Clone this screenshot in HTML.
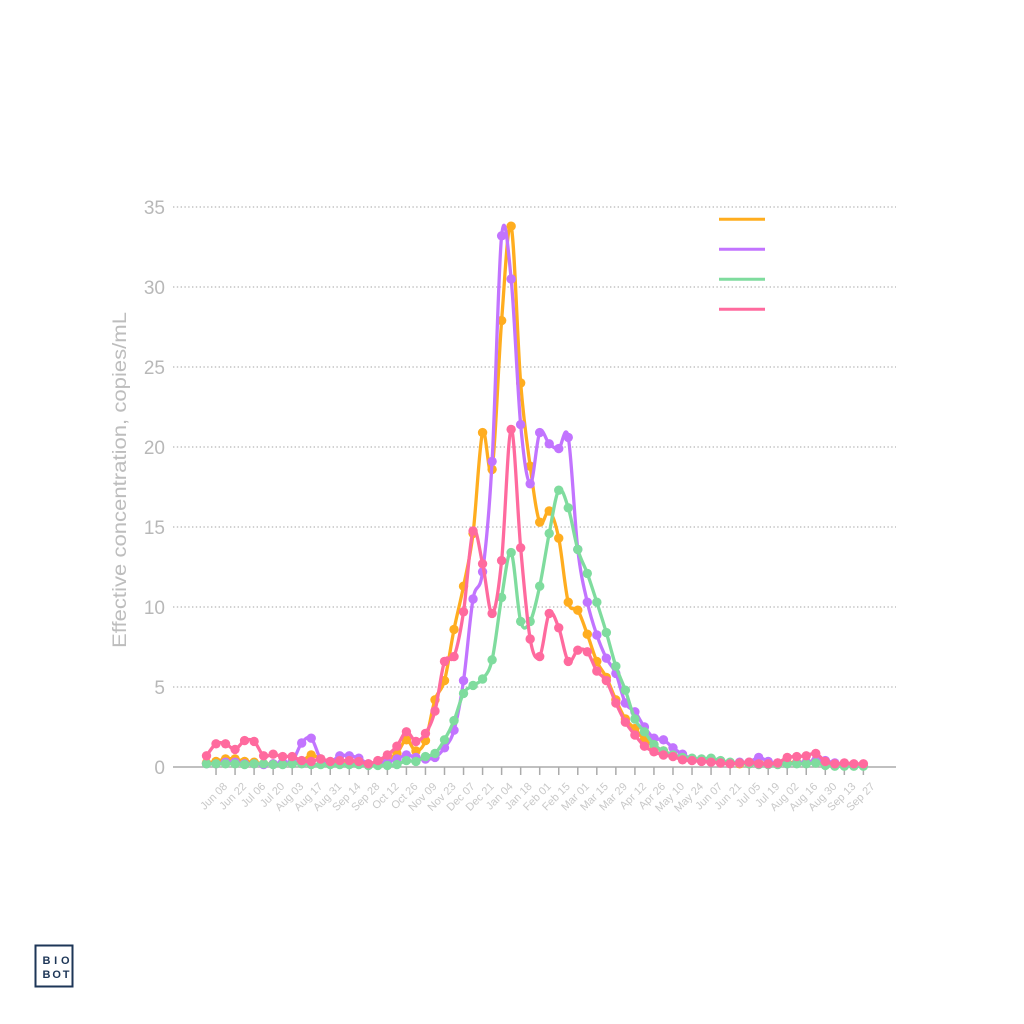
<!DOCTYPE html>
<html>
<head>
<meta charset="utf-8">
<style>
  html,body{margin:0;padding:0;background:#fff;}
  svg{display:block;}
  text{font-family:"Liberation Sans",Arial,sans-serif;}
</style>
</head>
<body>
<svg id="chart" xmlns="http://www.w3.org/2000/svg" width="1024" height="1024" viewBox="0 0 1024 1024">
  <rect width="1024" height="1024" fill="#fff"/>
  <!-- gridlines -->
  <g stroke="#c2c2c2" stroke-width="1.4" stroke-dasharray="1.4 2.4">
    <line x1="173" y1="207" x2="896" y2="207"/>
    <line x1="173" y1="287" x2="896" y2="287"/>
    <line x1="173" y1="367" x2="896" y2="367"/>
    <line x1="173" y1="447" x2="896" y2="447"/>
    <line x1="173" y1="527" x2="896" y2="527"/>
    <line x1="173" y1="607" x2="896" y2="607"/>
    <line x1="173" y1="687" x2="896" y2="687"/>
  </g>
  <!-- y labels -->
  <g font-size="19" fill="#b8b8b8" text-anchor="end">
    <text x="165" y="214">35</text>
    <text x="165" y="294">30</text>
    <text x="165" y="374">25</text>
    <text x="165" y="454">20</text>
    <text x="165" y="534">15</text>
    <text x="165" y="614">10</text>
    <text x="165" y="694">5</text>
    <text x="165" y="774">0</text>
  </g>
  <text transform="translate(126,480) rotate(-90)" text-anchor="middle" font-size="19" fill="#bdbdbd" textLength="336" lengthAdjust="spacingAndGlyphs">Effective concentration, copies/mL</text>

  <!-- x axis -->
  <line x1="173" y1="767" x2="896" y2="767" stroke="#ababab" stroke-width="1.5"/>
  <g id="ticks" stroke="#ababab" stroke-width="1.5"></g>
  <g font-size="11" fill="#c8c8c8" text-anchor="end">
    <text transform="translate(228.0,787) rotate(-45)">Jun 08</text>
    <text transform="translate(247.0,787) rotate(-45)">Jun 22</text>
    <text transform="translate(266.1,787) rotate(-45)">Jul 06</text>
    <text transform="translate(285.1,787) rotate(-45)">Jul 20</text>
    <text transform="translate(304.2,787) rotate(-45)">Aug 03</text>
    <text transform="translate(323.2,787) rotate(-45)">Aug 17</text>
    <text transform="translate(342.2,787) rotate(-45)">Aug 31</text>
    <text transform="translate(361.3,787) rotate(-45)">Sep 14</text>
    <text transform="translate(380.3,787) rotate(-45)">Sep 28</text>
    <text transform="translate(399.4,787) rotate(-45)">Oct 12</text>
    <text transform="translate(418.4,787) rotate(-45)">Oct 26</text>
    <text transform="translate(437.4,787) rotate(-45)">Nov 09</text>
    <text transform="translate(456.5,787) rotate(-45)">Nov 23</text>
    <text transform="translate(475.5,787) rotate(-45)">Dec 07</text>
    <text transform="translate(494.6,787) rotate(-45)">Dec 21</text>
    <text transform="translate(513.6,787) rotate(-45)">Jan 04</text>
    <text transform="translate(532.6,787) rotate(-45)">Jan 18</text>
    <text transform="translate(551.7,787) rotate(-45)">Feb 01</text>
    <text transform="translate(570.7,787) rotate(-45)">Feb 15</text>
    <text transform="translate(589.8,787) rotate(-45)">Mar 01</text>
    <text transform="translate(608.8,787) rotate(-45)">Mar 15</text>
    <text transform="translate(627.8,787) rotate(-45)">Mar 29</text>
    <text transform="translate(646.9,787) rotate(-45)">Apr 12</text>
    <text transform="translate(665.9,787) rotate(-45)">Apr 26</text>
    <text transform="translate(685.0,787) rotate(-45)">May 10</text>
    <text transform="translate(704.0,787) rotate(-45)">May 24</text>
    <text transform="translate(723.0,787) rotate(-45)">Jun 07</text>
    <text transform="translate(742.1,787) rotate(-45)">Jun 21</text>
    <text transform="translate(761.1,787) rotate(-45)">Jul 05</text>
    <text transform="translate(780.2,787) rotate(-45)">Jul 19</text>
    <text transform="translate(799.2,787) rotate(-45)">Aug 02</text>
    <text transform="translate(818.2,787) rotate(-45)">Aug 16</text>
    <text transform="translate(837.3,787) rotate(-45)">Aug 30</text>
    <text transform="translate(856.3,787) rotate(-45)">Sep 13</text>
    <text transform="translate(875.4,787) rotate(-45)">Sep 27</text>
  </g>

  <g id="series"></g>

  <!-- legend -->
  <g stroke-width="3" stroke-linecap="butt">
    <line x1="719" y1="219.3" x2="765" y2="219.3" stroke="#FFAD1F"/>
    <line x1="719" y1="249.3" x2="765" y2="249.3" stroke="#C274FF"/>
    <line x1="719" y1="279.3" x2="765" y2="279.3" stroke="#7FDC9E"/>
    <line x1="719" y1="309.3" x2="765" y2="309.3" stroke="#FF6A9E"/>
  </g>

  <!-- logo -->
  <rect x="35.5" y="945.5" width="37" height="41" fill="none" stroke="#1d3657" stroke-width="2"/>
  <text x="42.5" y="964" font-size="11" font-weight="bold" fill="#1d3657" textLength="27" lengthAdjust="spacing">BIO</text>
  <text x="42.5" y="978" font-size="11" font-weight="bold" fill="#1d3657" textLength="27" lengthAdjust="spacing">BOT</text>
</svg>
<script>
(function(){
  var NS="http://www.w3.org/2000/svg";
  var ticks=document.getElementById('ticks');
  for(var i=0;i<35;i++){
    var x=216.02+19.04*i;
    var l=document.createElementNS(NS,'line');
    l.setAttribute('x1',x);l.setAttribute('x2',x);
    l.setAttribute('y1',767);l.setAttribute('y2',775);
    ticks.appendChild(l);
  }
  var data={
    orange:{c:"#FFAD1F",v:[0.25,0.35,0.5,0.5,0.35,0.3,0.2,0.2,0.2,0.3,0.35,0.75,0.5,0.3,0.2,0.2,0.2,0.15,0.2,0.45,0.85,1.7,1.0,1.65,4.2,5.4,8.6,11.3,14.6,20.9,18.6,27.9,33.8,24.0,18.8,15.3,16.0,14.3,10.3,9.8,8.3,6.6,5.6,4.2,3.0,2.4,1.7,1.3,1.0,0.75,0.55,0.45,0.4,0.35,0.3,0.25,0.2,0.2,0.25,0.2,0.2,0.25,0.3,0.3,0.4,0.2,0.15,0.1,0.1,0.1]},
    purple:{c:"#C274FF",v:[0.2,0.2,0.3,0.3,0.2,0.2,0.15,0.2,0.3,0.35,1.5,1.8,0.5,0.3,0.7,0.7,0.55,0.2,0.2,0.3,0.5,0.75,0.6,0.5,0.6,1.2,2.3,5.4,10.5,12.2,19.1,33.2,30.5,21.4,17.7,20.9,20.2,19.9,20.6,13.6,10.3,8.25,6.8,5.85,4.0,3.45,2.5,1.8,1.7,1.2,0.8,0.5,0.4,0.35,0.3,0.25,0.3,0.3,0.6,0.35,0.25,0.2,0.25,0.3,0.4,0.4,0.25,0.15,0.1,0.1]},
    green:{c:"#7FDC9E",v:[0.2,0.2,0.2,0.2,0.15,0.2,0.2,0.15,0.15,0.2,0.2,0.15,0.15,0.15,0.15,0.15,0.15,0.1,0.1,0.1,0.15,0.4,0.35,0.65,0.85,1.7,2.9,4.6,5.1,5.5,6.7,10.6,13.4,9.1,9.1,11.3,14.6,17.3,16.2,13.6,12.1,10.3,8.4,6.3,4.8,3.0,2.2,1.4,1.0,0.75,0.6,0.55,0.5,0.55,0.4,0.3,0.25,0.2,0.15,0.15,0.15,0.2,0.2,0.2,0.25,0.1,0.05,0.05,0.05,0.05]},
    pink:{c:"#FF6A9E",v:[0.7,1.45,1.45,1.1,1.65,1.6,0.7,0.8,0.65,0.65,0.4,0.35,0.5,0.35,0.4,0.4,0.35,0.2,0.4,0.75,1.3,2.2,1.6,2.1,3.5,6.6,6.9,9.7,14.75,12.7,9.6,12.9,21.1,13.7,8.0,6.9,9.6,8.7,6.6,7.3,7.2,6.0,5.4,4.0,2.8,2.0,1.3,0.95,0.75,0.65,0.45,0.4,0.35,0.3,0.25,0.2,0.25,0.3,0.2,0.2,0.25,0.6,0.65,0.7,0.85,0.35,0.2,0.25,0.2,0.2]}
  };
  var order=["orange","purple","green","pink"];
  var g=document.getElementById('series');
  order.forEach(function(name){
    var s=data[name];
    var pts=s.v.map(function(v,k){return [206.5+9.52*k, 767-16*v];});
    var d="M"+pts[0][0].toFixed(2)+","+pts[0][1].toFixed(2);
    for(var i=0;i<pts.length-1;i++){
      var p0=pts[i-1]||pts[i], p1=pts[i], p2=pts[i+1], p3=pts[i+2]||pts[i+1];
      var t=1/6;
      var c1x=p1[0]+(p2[0]-p0[0])*t, c1y=p1[1]+(p2[1]-p0[1])*t;
      var c2x=p2[0]-(p3[0]-p1[0])*t, c2y=p2[1]-(p3[1]-p1[1])*t;
      d+=" C"+c1x.toFixed(2)+","+c1y.toFixed(2)+" "+c2x.toFixed(2)+","+c2y.toFixed(2)+" "+p2[0].toFixed(2)+","+p2[1].toFixed(2);
    }
    var grp=document.createElementNS(NS,'g');
    var path=document.createElementNS(NS,'path');
    path.setAttribute('d',d);path.setAttribute('fill','none');
    path.setAttribute('stroke',s.c);path.setAttribute('stroke-width','3.3');
    path.setAttribute('stroke-linejoin','round');
    grp.appendChild(path);
    pts.forEach(function(p){
      var c=document.createElementNS(NS,'circle');
      c.setAttribute('cx',p[0].toFixed(2));c.setAttribute('cy',p[1].toFixed(2));
      c.setAttribute('r','4.7');c.setAttribute('fill',s.c);
      grp.appendChild(c);
    });
    g.appendChild(grp);
  });
})();
</script>
</body>
</html>
